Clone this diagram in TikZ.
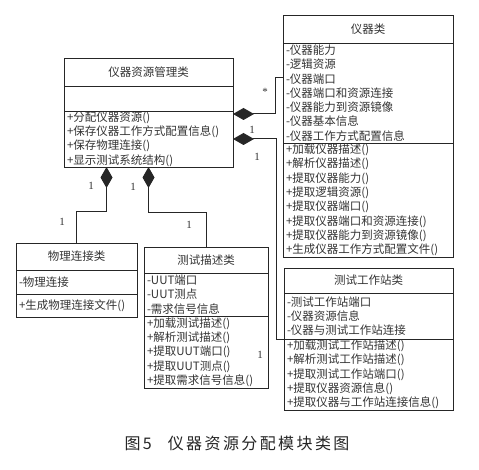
\documentclass[tikz,border=0pt]{standalone}
\usepackage{fontspec}
\setmainfont{Liberation Serif}
\newfontfamily\cjk{Noto Sans CJK SC}
\newfontfamily\capfont[LetterSpace=15]{Noto Sans CJK SC}
\usetikzlibrary{positioning,arrows.meta}

\begin{document}
\begin{tikzpicture}[x=1pt, y=-1pt, node distance=0pt]
    \tikzset{>=latex}
    \useasboundingbox (0,0) rectangle (479,470);
    % Class boxes: head, attributes, operations
    \tikzstyle{classhead} = [rectangle, draw=black!85, line width=0.9pt, outer sep=0pt, inner xsep=3pt, inner ysep=0pt, align=center, text=black!80, font=\cjk\fontsize{11.5}{14.3}\selectfont]
    \tikzstyle{classbody} = [classhead, align=left]
    \tikzstyle{assoc}     = [draw=black!85, line width=1pt]
    \tikzstyle{comp}      = [assoc, {Diamond[length=21pt, width=12pt]}-]
    \tikzstyle{mult}      = [inner sep=0pt, text=black!80, font=\fontsize{11}{13}\selectfont]

    \node[classhead, text width=163pt, minimum height=28pt, anchor=north west] (mgr-t) at (64,58) {仪器资源管理类};
    \node[classbody, text width=163pt, minimum height=25pt, below=of mgr-t] (mgr-a) {};
    \node[classbody, text width=163pt, minimum height=56pt, below=of mgr-a] (mgr-m) {+分配仪器资源()\\+保存仪器工作方式配置信息()\\+保存物理连接()\\+显示测试系统结构()};

    \node[classhead, text width=164pt, minimum height=28pt, anchor=north west] (instr-t) at (283,15) {仪器类};
    \node[classbody, text width=164pt, minimum height=100pt, below=of instr-t] (instr-a) {-仪器能力\\-逻辑资源\\-仪器端口\\-仪器端口和资源连接\\-仪器能力到资源镜像\\-仪器基本信息\\-仪器工作方式配置信息};
    \node[classbody, text width=164pt, minimum height=114pt, below=of instr-a] (instr-m) {+加载仪器描述()\\+解析仪器描述()\\+提取仪器能力()\\+提取逻辑资源()\\+提取仪器端口()\\+提取仪器端口和资源连接()\\+提取仪器能力到资源镜像()\\+生成仪器工作方式配置文件()};

    \node[classhead, text width=115pt, minimum height=27pt, anchor=north west] (phys-t) at (16,243) {物理连接类};
    \node[classbody, text width=115pt, minimum height=24pt, below=of phys-t] (phys-a) {-物理连接};
    \node[classbody, text width=115pt, minimum height=23pt, below=of phys-a] (phys-m) {+生成物理连接文件()};

    \node[classhead, text width=118pt, minimum height=26pt, anchor=north west] (desc-t) at (144,247) {测试描述类};
    \node[classbody, text width=118pt, minimum height=43pt, below=of desc-t] (desc-a) {-UUT端口\\-UUT测点\\-需求信号信息};
    \node[classbody, text width=118pt, minimum height=72pt, below=of desc-a] (desc-m) {+加载测试描述()\\+解析测试描述()\\+提取UUT端口()\\+提取UUT测点()\\+提取需求信号信息()};

    \node[classhead, text width=163pt, minimum height=25pt, anchor=north west] (stn-t) at (284,268) {测试工作站类};
    \node[classbody, text width=163pt, minimum height=46pt, below=of stn-t] (stn-a) {-测试工作站端口\\-仪器资源信息\\-仪器与测试工作站连接};
    \node[classbody, text width=163pt, minimum height=71pt, below=of stn-a] (stn-m) {+加载测试工作站描述()\\+解析测试工作站描述()\\+提取测试工作站端口()\\+提取仪器资源信息()\\+提取仪器与工作站连接信息()};

    % Composition links
    \draw[comp] ([yshift=-3pt]mgr-m.north east) -- ++(42,0) |- ([yshift=15pt]instr-a.west);
    \draw[comp] (mgr-m.east) -- ++(43,0) |- (stn-a.south west);
    \draw[comp] ([xshift=-42pt]mgr-m.south) -- ++(0,45) -| (phys-t.north);
    \draw[comp] (mgr-m.south) -- ++(0,46) -| (desc-t.north);

    % Multiplicities
    \node[mult] (m-star) at (265,92) {*};
    \node[mult] (m-i1) at (252,130) {1};
    \node[mult] (m-i2) at (257,157) {1};
    \node[mult] (m-s) at (260,355) {1};
    \node[mult] (m-p1) at (91,186) {1};
    \node[mult] (m-p2) at (62,222) {1};
    \node[mult] (m-d1) at (133,187) {1};
    \node[mult] (m-d2) at (189,225) {1};

    \node[text=black!85, font=\capfont\fontsize{16}{18}\selectfont] (caption) at (237,443) {图5\hspace{1em}仪器资源分配模块类图};
  \end{tikzpicture}
\end{document}
